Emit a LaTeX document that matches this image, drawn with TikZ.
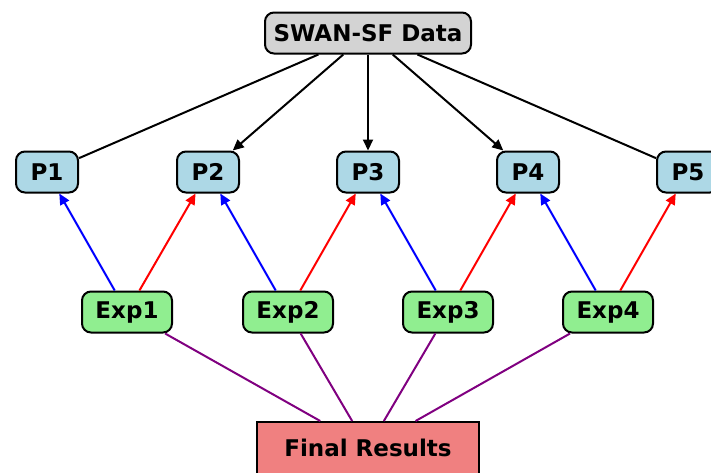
\documentclass[tikz,border=0pt]{standalone}
\usepackage{fontspec}
\setmainfont{DejaVu Sans}
\usetikzlibrary{arrows.meta}
\definecolor{lblue}{RGB}{173,216,230}
\definecolor{lgreen}{RGB}{144,238,144}
\definecolor{lgray}{RGB}{211,211,211}
\definecolor{lcoral}{RGB}{240,128,128}
\definecolor{purp}{RGB}{128,0,128}
\tikzset{
  box/.style={draw=black, line width=2pt, rounded corners=9pt, minimum height=41pt, font=\fontsize{23}{27}\selectfont\bfseries, inner sep=0pt},
  pbox/.style={box, fill=lblue, minimum width=62pt},
  ebox/.style={box, fill=lgreen, minimum width=90pt},
  topbox/.style={box, fill=lgray, minimum width=206pt},
  finbox/.style={draw=black, line width=2pt, fill=lcoral, minimum width=222pt, minimum height=52pt, font=\fontsize{23}{27}\selectfont\bfseries},
  edge/.style={line width=2pt},
  arr/.style={edge, -{Triangle[length=11pt,width=10pt]}},
}
\begin{document}
\begin{tikzpicture}[x=1pt,y=-1pt]
\useasboundingbox (0,0) rectangle (711,472);
\node[topbox] (top) at (368,33) {SWAN-SF Data};
\foreach \i/\x in {1/47,2/208,3/368,4/528,5/688} \node[pbox] (p\i) at (\x,172) {P\i};
\foreach \i/\x in {1/127,2/288,3/448,4/608} \node[ebox] (e\i) at (\x,312) {Exp\i};
\node[finbox] (fin) at (368,448) {Final Results};
\draw[edge] (top) -- (p1);
\draw[arr] (top) -- (p2);
\draw[arr] (top) -- (p3);
\draw[arr] (top) -- (p4);
\draw[edge] (top) -- (p5);
\foreach \i [evaluate=\i as \j using int(\i+1)] in {1,2,3,4} {
  \draw[arr, blue] (e\i) -- (p\i);
  \draw[arr, red] (e\i) -- (p\j);
}
\draw[edge, purp] (e1) -- (fin);
\draw[edge, purp] (e2) -- (fin);
\draw[edge, purp] (e3) -- (fin);
\draw[edge, purp] (e4) -- (fin);
\end{tikzpicture}
\end{document}
